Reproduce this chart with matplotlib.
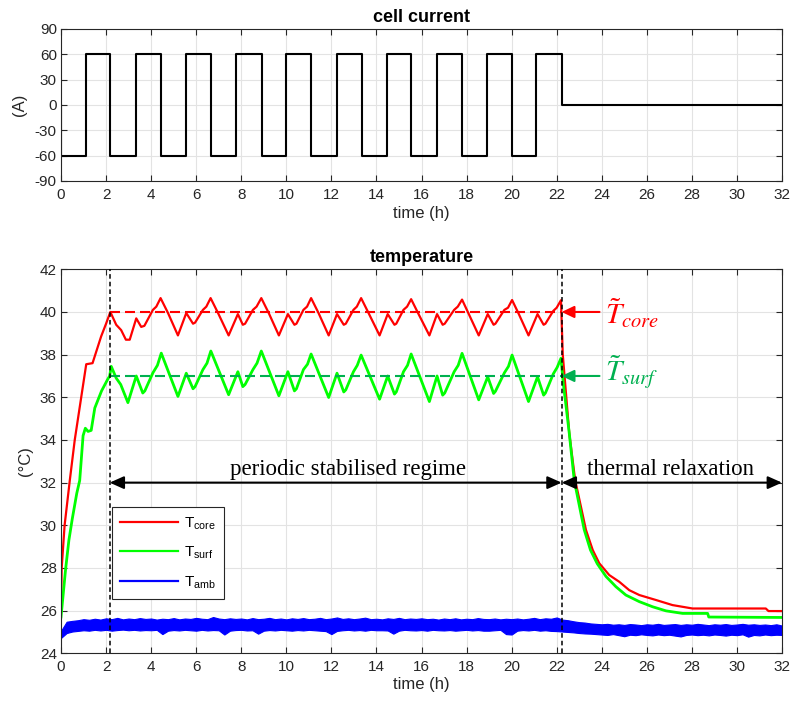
import numpy as np
import matplotlib
matplotlib.use("Agg")
import matplotlib.pyplot as plt
from matplotlib.lines import Line2D

plt.rcParams['font.family'] = ['Liberation Sans', 'DejaVu Sans']
plt.rcParams['axes.unicode_minus'] = False

# ---------------- data ----------------
# cell current (step profile)
current_t = [0, 0, 1.11, 2.19, 3.31, 4.43, 5.54, 6.65, 7.78, 8.90, 9.99, 11.11,
             12.23, 13.35, 14.47, 15.55, 16.67, 17.78, 18.89, 20.00, 21.10, 22.23, 32.0]
current_A = [0, -60, 60, -60, 60, -60, 60, -60, 60, -60, 60, -60,
             60, -60, 60, -60, 60, -60, 60, -60, 60, 0, 0]

# core temperature
core_t = [0, 0.03, 0.16, 0.39, 0.61, 1.12, 1.40, 1.78, 2.00, 2.19,
          2.45, 2.67, 2.88, 3.05, 3.34, 3.56, 3.70, 4.08, 4.23, 4.42,
          4.75, 5.19, 5.56, 5.86, 5.95, 6.30, 6.45, 6.64,
          6.97, 7.44, 7.85, 8.07, 8.17, 8.52, 8.68, 8.89,
          9.22, 9.67, 10.07, 10.36, 10.45, 10.76, 10.92, 11.10,
          11.43, 11.88, 12.25, 12.55, 12.64, 12.98, 13.13, 13.32,
          13.65, 14.14, 14.50, 14.80, 14.88, 15.20, 15.36, 15.54,
          15.87, 16.35, 16.69, 16.94, 17.03, 17.45, 17.61, 17.80,
          18.10, 18.54, 18.94, 19.20, 19.28, 19.68, 19.84, 20.02,
          20.32, 20.75, 21.15, 21.42, 21.50, 21.85, 22.00, 22.19,
          22.27, 22.56, 22.82, 23.30, 23.60, 23.89, 24.33, 24.78, 25.22,
          25.67, 26.40, 27.14, 28.03, 31.28, 31.40, 32.0]
core_T = [26.1, 28.0, 30.0, 32.1, 34.0, 37.55, 37.6, 38.85, 39.45, 40.0,
          39.4, 39.15, 38.7, 38.7, 39.7, 39.3, 39.35, 40.1, 40.25, 40.65,
          39.95, 38.9, 39.95, 39.45, 39.5, 40.1, 40.25, 40.65,
          39.95, 38.9, 39.9, 39.4, 39.45, 40.1, 40.25, 40.65,
          39.95, 38.9, 39.9, 39.4, 39.45, 40.1, 40.25, 40.65,
          39.95, 38.9, 39.9, 39.4, 39.45, 40.1, 40.25, 40.65,
          39.95, 38.9, 39.9, 39.4, 39.45, 40.1, 40.25, 40.6,
          39.9, 38.9, 39.9, 39.4, 39.45, 40.1, 40.25, 40.58,
          39.9, 38.9, 39.9, 39.4, 39.45, 40.1, 40.2, 40.56,
          39.9, 38.9, 39.9, 39.4, 39.45, 40.05, 40.2, 40.55,
          38.0, 34.3, 32.12, 29.78, 28.84, 28.22, 27.67, 27.35, 26.96,
          26.73, 26.5, 26.26, 26.1, 26.1, 25.98, 25.98]

# surface temperature
surf_t = [0, 0.10, 0.20, 0.35, 0.50, 0.70, 0.83, 0.98, 1.08, 1.20, 1.34, 1.50, 1.80, 2.05, 2.16, 2.23,
          2.45, 2.65, 2.97, 3.34, 3.63, 3.72, 4.08, 4.28, 4.45,
          5.19, 5.56, 5.86, 5.95, 6.30, 6.48, 6.65,
          7.44, 7.85, 8.07, 8.17, 8.52, 8.70, 8.89,
          9.67, 10.07, 10.36, 10.45, 10.76, 10.94, 11.10,
          11.88, 12.25, 12.55, 12.64, 12.98, 13.15, 13.32,
          14.14, 14.50, 14.80, 14.88, 15.20, 15.38, 15.54,
          16.35, 16.69, 16.94, 17.03, 17.45, 17.63, 17.80,
          18.54, 18.94, 19.20, 19.28, 19.68, 19.86, 20.02,
          20.75, 21.15, 21.42, 21.50, 21.85, 22.02, 22.19,
          22.30, 22.41, 22.56, 22.78, 23.22, 23.50, 23.80, 24.19, 24.63, 25.07,
          25.67, 26.26, 26.85, 27.59, 28.70, 28.75, 32.0]
surf_T = [25.7, 26.8, 27.9, 29.3, 30.3, 31.5, 32.1, 34.2, 34.55, 34.4, 34.45, 35.5, 36.3, 36.8, 37.0, 37.45,
          36.9, 36.6, 35.75, 37.0, 36.2, 36.3, 37.15, 37.5, 38.07,
          36.04, 37.13, 36.4, 36.5, 37.3, 37.6, 38.17,
          36.12, 37.2, 36.5, 36.6, 37.3, 37.6, 38.17,
          36.07, 37.2, 36.3, 36.4, 37.3, 37.55, 38.03,
          35.99, 37.13, 36.25, 36.35, 37.2, 37.5, 37.98,
          35.91, 37.0, 36.15, 36.25, 37.2, 37.5, 38.03,
          35.8, 37.0, 36.1, 36.2, 37.2, 37.5, 38.06,
          35.88, 36.96, 36.18, 36.28, 37.15, 37.45, 37.98,
          35.8, 36.96, 36.1, 36.2, 37.1, 37.4, 37.83,
          36.58, 35.64, 34.3, 32.1, 29.8, 28.84, 28.2, 27.6, 27.12, 26.73,
          26.42, 26.18, 25.99, 25.87, 25.87, 25.7, 25.68]

# ambient temperature band (upper / lower envelope every 0.25 h)
amb_t = np.arange(0, 32.001, 0.25)
amb_hi = [25.05, 25.48, 25.52, 25.55, 25.60, 25.57, 25.62, 25.58, 25.64, 25.60, 25.66, 25.59, 25.63, 25.60, 25.65, 25.61,
          25.63, 25.58, 25.62, 25.60, 25.65, 25.59, 25.63, 25.61, 25.66, 25.62, 25.60, 25.70, 25.63, 25.60, 25.64, 25.61,
          25.63, 25.59, 25.65, 25.60, 25.62, 25.66, 25.60, 25.63, 25.59, 25.64, 25.61, 25.65, 25.60, 25.62, 25.66, 25.60,
          25.63, 25.68, 25.61, 25.64, 25.60, 25.63, 25.67, 25.60, 25.62, 25.59, 25.64, 25.61, 25.66, 25.60, 25.63, 25.61,
          25.64, 25.60, 25.62, 25.58, 25.63, 25.60, 25.64, 25.59, 25.62, 25.60, 25.65, 25.61, 25.60, 25.63, 25.59, 25.62,
          25.60, 25.63, 25.59, 25.62, 25.66, 25.60, 25.64, 25.62, 25.68, 25.58, 25.55, 25.50, 25.46, 25.44, 25.40, 25.38,
          25.36, 25.38, 25.34, 25.36, 25.33, 25.37, 25.35, 25.32, 25.36, 25.34, 25.38, 25.33, 25.35, 25.37, 25.33, 25.36,
          25.34, 25.38, 25.35, 25.32, 25.36, 25.34, 25.37, 25.33, 25.35, 25.38, 25.34, 25.36, 25.33, 25.35, 25.32, 25.36,
          25.30]
amb_lo = [24.72, 24.95, 25.02, 25.05, 25.08, 25.06, 25.10, 25.07, 25.10, 25.06, 25.09, 25.11, 25.08, 25.10, 25.07, 25.09,
          25.08, 25.10, 24.90, 25.06, 25.09, 25.07, 25.10, 25.08, 25.06, 25.10, 25.07, 25.09, 25.08, 24.88, 25.06, 25.09,
          25.10, 25.07, 25.08, 24.92, 25.06, 25.09, 25.07, 25.10, 25.08, 25.06, 25.09, 25.07, 25.10, 25.08, 25.06, 25.04,
          24.90, 25.05, 25.08, 25.10, 25.07, 25.09, 25.06, 25.10, 25.08, 25.08, 25.07, 24.92, 25.06, 25.10, 25.08, 25.07,
          25.09, 25.06, 25.10, 25.08, 25.07, 25.09, 25.06, 25.08, 25.10, 25.07, 25.09, 25.06, 25.06, 25.08, 25.10, 24.90,
          24.88, 25.06, 25.09, 25.07, 25.10, 25.06, 25.08, 25.05, 25.04, 25.02, 25.00, 24.98, 24.95, 24.93, 24.92, 24.90,
          24.88, 24.86, 24.90, 24.85, 24.80, 24.87, 24.85, 24.89, 24.86, 24.84, 24.88, 24.85, 24.87, 24.83, 24.79, 24.86,
          24.88, 24.85, 24.87, 24.84, 24.88, 24.86, 24.83, 24.87, 24.85, 24.89, 24.78, 24.86, 24.84, 24.88, 24.85, 24.87,
          24.86]

core_mean = 40.0
surf_mean = 37.0
regime_start = 2.16
regime_end = 22.22
t_end = 32.0

x_ticks = list(range(0, 33, 2))
cur_ticks = [-90, -60, -30, 0, 30, 60, 90]
temp_ticks = list(range(24, 43, 2))

# ---------------- style ----------------
AX_COL = '#262626'
GRID_COL = '#e3e3e3'
GREEN_ANN = '#00B050'


def style_axes(ax):
    ax.grid(True, color=GRID_COL, lw=0.8)
    ax.set_axisbelow(True)
    ax.tick_params(direction='in', top=True, right=True, length=4, width=0.8,
                   colors=AX_COL, labelsize=11)
    ax.tick_params(axis='x', pad=5)
    ax.tick_params(axis='y', pad=3)
    for s in ax.spines.values():
        s.set_color(AX_COL)
        s.set_linewidth(0.8)


fig = plt.figure(figsize=(7.9, 7.01), dpi=100)
W, H = 790, 701
ax1 = fig.add_axes([61 / W, 1 - 181 / H, (782 - 61) / W, (181 - 29) / H])
ax2 = fig.add_axes([61 / W, 1 - 653.3 / H, (782 - 61) / W, (653.3 - 269.3) / H])

# ---- current ----
style_axes(ax1)
ax1.plot(current_t, current_A, color='k', lw=1.5, drawstyle='steps-post')
ax1.set_xlim(0, t_end)
ax1.set_ylim(-90, 90)
ax1.set_xticks(x_ticks)
ax1.set_yticks(cur_ticks)
ax1.set_title('cell current', fontweight='bold', fontsize=13, pad=5, color='k')
ax1.set_xlabel('time (h)', fontsize=12, color=AX_COL)
ax1.set_ylabel('(A)', fontsize=12, color=AX_COL)
ax1.xaxis.set_label_coords(0.5, -0.165)
ax1.yaxis.set_label_coords(-0.047, 0.5)

# ---- temperature ----
style_axes(ax2)
ax2.plot(core_t, core_T, color='#ff0000', lw=1.6)
ax2.plot(surf_t, surf_T, color='#00ff00', lw=2.0)
ax2.fill_between(amb_t, amb_lo, amb_hi, color='#0000ff', lw=0.8, edgecolor='#0000ff')

ax2.plot([regime_start, regime_end], [core_mean, core_mean], color='#ff0000', lw=1.5,
         dashes=(4.8, 2.4))
ax2.plot([regime_start, regime_end], [surf_mean, surf_mean], color=GREEN_ANN, lw=1.5,
         dashes=(4.8, 2.4))

for xv in (regime_start, regime_end):
    ax2.axvline(xv, color='k', lw=1.1, dashes=(3, 2), zorder=5)

arrow_kw = dict(arrowstyle='<|-|>,head_length=0.85,head_width=0.38', color='k', lw=1.5,
                shrinkA=0, shrinkB=0)
ax2.annotate('', xy=(regime_start, 32), xytext=(regime_end, 32), arrowprops=arrow_kw)
ax2.annotate('', xy=(regime_end, 32), xytext=(t_end, 32), arrowprops=arrow_kw)
ax2.text(12.75, 32.35, 'periodic stabilised regime', family='Liberation Serif',
         fontsize=16.5, ha='center', va='baseline', color='k')
ax2.text(27.05, 32.35, 'thermal relaxation', family='Liberation Serif',
         fontsize=16.5, ha='center', va='baseline', color='k')

ax2.annotate('', xy=(regime_end, core_mean), xytext=(23.9, core_mean),
             arrowprops=dict(arrowstyle='-|>,head_length=0.75,head_width=0.36', color='#ff0000',
                             lw=1.5, shrinkA=0, shrinkB=0))
ax2.annotate('', xy=(regime_end, surf_mean), xytext=(23.9, surf_mean),
             arrowprops=dict(arrowstyle='-|>,head_length=0.75,head_width=0.36', color=GREEN_ANN,
                             lw=1.5, shrinkA=0, shrinkB=0))
ax2.text(24.15, 39.42, r'$\tilde{T}_{core}$', color='#ff0000', fontsize=21,
         ha='left', va='baseline', math_fontfamily='stix')
ax2.text(24.15, 36.78, r'$\tilde{T}_{surf}$', color=GREEN_ANN, fontsize=21,
         ha='left', va='baseline', math_fontfamily='stix')

ax2.set_xlim(0, t_end)
ax2.set_ylim(24, 42)
ax2.set_xticks(x_ticks)
ax2.set_yticks(temp_ticks)
ax2.set_title('temperature', fontweight='bold', fontsize=13, pad=5, color='k')
ax2.set_xlabel('time (h)', fontsize=12, color=AX_COL)
ax2.set_ylabel('(°C)', fontsize=12, color=AX_COL)
ax2.xaxis.set_label_coords(0.5, -0.062)
ax2.yaxis.set_label_coords(-0.039, 0.5)

handles = [Line2D([], [], color='#ff0000', lw=1.6),
           Line2D([], [], color='#00ff00', lw=1.6),
           Line2D([], [], color='#0000ff', lw=1.6)]
labels = [r'T$_\mathregular{core}$', r'T$_\mathregular{surf}$', r'T$_\mathregular{amb}$']
leg = ax2.legend(handles, labels, loc='upper left', bbox_to_anchor=(0.0713, 0.380),
                 borderaxespad=0, fontsize=11, handlelength=3.8, handletextpad=0.4,
                 labelspacing=0.85, borderpad=0.5, fancybox=False, framealpha=1,
                 edgecolor=AX_COL)
leg.get_frame().set_linewidth(0.8)

fig.savefig('out.png', dpi=100)
